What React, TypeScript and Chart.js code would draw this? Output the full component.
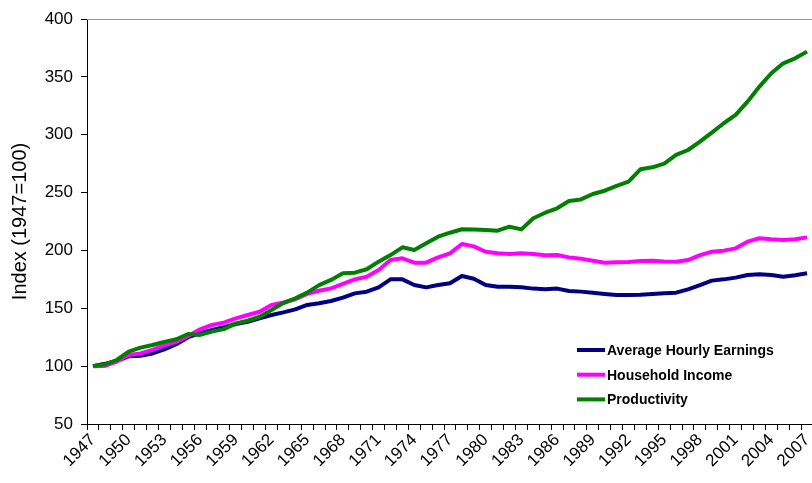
import React, { useEffect, useRef } from "react";
import { Chart, registerables } from "chart.js";

Chart.register(...registerables);

const years = [
  "1947", "1948", "1949", "1950", "1951", "1952", "1953", "1954", "1955", "1956",
  "1957", "1958", "1959", "1960", "1961", "1962", "1963", "1964", "1965", "1966",
  "1967", "1968", "1969", "1970", "1971", "1972", "1973", "1974", "1975", "1976",
  "1977", "1978", "1979", "1980", "1981", "1982", "1983", "1984", "1985", "1986",
  "1987", "1988", "1989", "1990", "1991", "1992", "1993", "1994", "1995", "1996",
  "1997", "1998", "1999", "2000", "2001", "2002", "2003", "2004", "2005", "2006",
  "2007",
];

const hourlyEarnings = [
  100, 102, 104.5, 108.5, 109, 111, 114.5, 119, 125, 128.4,
  131.2, 133.6, 136.4, 138.4, 141.3, 144.2, 146.5, 149.1, 152.9, 154.3,
  156.3, 159.2, 162.9, 164.3, 168.1, 175, 175, 170.1, 168.1, 170.1,
  171.6, 177.9, 175.5, 170.1, 168.7, 168.7, 168.1, 167, 166.4, 167,
  165, 164.4, 163.5, 162.4, 161.5, 161.5, 161.8, 162.4, 163, 163.5,
  166.4, 170.1, 173.9, 175, 176.5, 178.8, 179.4, 178.8, 177.3, 178.5,
  180.2,
];

const householdIncome = [
  100, 100.2, 104, 109.6, 111, 114, 118, 121, 126, 131.8,
  135.6, 137.6, 141.3, 144.2, 147, 152.8, 155, 157.8, 162.4, 165.2,
  167.2, 171, 175, 177.3, 183.1, 191.7, 193.2, 189.4, 189.4, 194,
  197.5, 205.6, 203.5, 198.9, 197.5, 196.9, 197.5, 196.9, 195.8, 196,
  194, 192.9, 191.1, 189.4, 189.8, 190, 190.9, 191.1, 190.5, 190.3,
  191.7, 196, 198.9, 199.8, 201.8, 207.6, 210.5, 209.6, 209, 209.6,
  211.3,
];

const productivity = [
  100, 101.6, 105.3, 112.5, 116, 118.3, 121, 123.2, 127.8, 127,
  129.8, 132, 137, 139.3, 142.7, 148.5, 154.5, 158.6, 163.5, 170,
  174.5, 180.2, 180.8, 183.7, 190.3, 196, 202.7, 200.4, 206.2, 211.9,
  215.3, 218.3, 218, 217.7, 217.1, 220.5, 218.2, 227.8, 232.6, 236.4,
  242.7, 244.1, 248.8, 251.6, 255.7, 259.4, 270.1, 271.8, 275, 282.5,
  286.8, 294, 301.8, 309.9, 317.1, 328.6, 341.6, 353.1, 361.7, 366,
  371.8,
];

const seriesNames = ["Average Hourly Earnings", "Household Income", "Productivity"];
const seriesColors = ["#000080", "#FF00FF", "#008000"];

const FONT = "'Liberation Sans', Arial, Helvetica, sans-serif";

const frameAndLegend = {
  id: "frameAndLegend",
  afterDraw(chart: any) {
    const { ctx, chartArea } = chart;
    ctx.save();
    // top frame line of plot area
    ctx.strokeStyle = "#9a9a9a";
    ctx.lineWidth = 1;
    ctx.beginPath();
    ctx.moveTo(chartArea.left, Math.round(chartArea.top) + 0.5);
    ctx.lineTo(chartArea.right, Math.round(chartArea.top) + 0.5);
    ctx.stroke();

    // legend
    const lx = 577;
    const ly = 350;
    const gap = 24.7;
    ctx.font = `bold 14px ${FONT}`;
    ctx.textBaseline = "middle";
    ctx.textAlign = "left";
    chart.data.datasets.forEach((ds: any, i: number) => {
      const y = ly + i * gap;
      ctx.strokeStyle = ds.borderColor;
      ctx.lineWidth = 4;
      ctx.lineCap = "butt";
      ctx.beginPath();
      ctx.moveTo(lx, y);
      ctx.lineTo(lx + 28, y);
      ctx.stroke();
      ctx.fillStyle = "#000";
      ctx.fillText(ds.label, lx + 30, y + 1);
    });
    ctx.restore();
  },
};

export default function App() {
  const canvasRef = useRef<HTMLCanvasElement | null>(null);

  useEffect(() => {
    const canvas = canvasRef.current;
    if (!canvas) return;
    const datasets = [hourlyEarnings, householdIncome, productivity].map((data, i) => ({
      label: seriesNames[i],
      data,
      borderColor: seriesColors[i],
      backgroundColor: seriesColors[i],
      borderWidth: 4,
      pointRadius: 0,
      pointHoverRadius: 0,
      tension: 0,
      borderJoinStyle: "round" as const,
      fill: false,
      order: 2 - i,
    }));

    const chart = new Chart(canvas, {
      type: "line",
      data: { labels: years, datasets },
      options: {
        responsive: false,
        animation: false,
        maintainAspectRatio: false,
        layout: { padding: { top: 19, right: 0, bottom: 0, left: 0 } },
        plugins: {
          legend: { display: false },
          tooltip: { enabled: false },
        },
        events: [],
        scales: {
          x: {
            type: "category",
            offset: true,
            grid: {
              display: true,
              offset: true,
              drawOnChartArea: false,
              drawTicks: true,
              tickLength: 6,
              color: "#000",
            },
            border: { display: true, color: "#000", width: 1 },
            ticks: {
              autoSkip: false,
              minRotation: 45,
              maxRotation: 45,
              color: "#000",
              padding: 0,
              font: { family: FONT, size: 17 },
              callback: function (this: any, val: any, idx: number) {
                return idx % 3 === 0 ? years[idx] : "";
              },
            },
            afterFit: (s: any) => {
              s.height = 59;
              s.paddingRight = 0;
              s.paddingLeft = 0;
            },
          },
          y: {
            min: 50,
            max: 400,
            grid: {
              display: true,
              drawOnChartArea: false,
              drawTicks: true,
              tickLength: 6,
              color: "#000",
            },
            border: { display: true, color: "#000", width: 1 },
            ticks: {
              stepSize: 50,
              color: "#000",
              padding: 8,
              font: { family: FONT, size: 17 },
            },
            title: {
              display: true,
              text: "Index (1947=100)",
              color: "#000",
              font: { family: FONT, size: 20 },
              padding: { top: 8, bottom: 0 },
            },
            afterFit: (s: any) => {
              s.width = 87;
            },
          },
        },
      },
      plugins: [frameAndLegend],
    });
    return () => chart.destroy();
  }, []);

  return (
    <div
      style={{
        position: "absolute",
        left: 0,
        top: 0,
        width: 812,
        height: 483,
        overflow: "hidden",
        background: "#fff",
      }}
    >
      <canvas ref={canvasRef} width={813} height={483} style={{ display: "block" }} />
    </div>
  );
}
